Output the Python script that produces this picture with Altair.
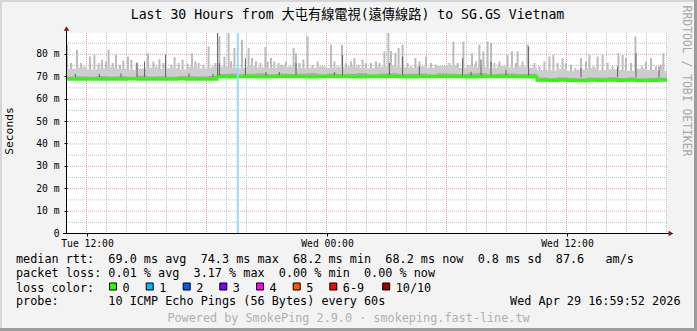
import altair as alt
import pandas as pd

MONO = "DejaVu Sans Mono, Noto Sans CJK TC"

# ---------------- data ----------------
hours = [i * 0.5 for i in range(61)]  # Tue 11:00 .. Wed 17:00, half-hour steps
median_ms = [68.7, 68.6, 68.7, 68.7, 68.6, 68.7, 68.8, 68.7, 68.6, 68.7, 68.7, 68.8, 68.7, 68.6, 68.7,
             69.8, 69.7, 69.8, 69.8, 69.7, 69.8, 69.9, 69.8, 69.8, 69.7, 69.8, 69.9, 69.8, 69.8, 69.7, 69.8,
             69.8, 69.9, 69.8, 69.7, 69.8, 69.8, 69.9, 69.8, 69.8, 69.7, 69.8, 69.8, 69.9, 69.8, 69.8, 69.7,
             68.2, 68.1, 68.2, 68.1, 68.0, 68.2, 68.1, 68.2, 68.1, 68.2, 68.0, 68.1, 68.2, 68.2]
smoke_top = [73.3, 73.8, 73.0, 73.6, 74.0, 73.3, 72.8, 73.4, 73.8, 73.2, 73.6, 73.0, 74.2, 73.4, 73.7,
             74.3, 73.8, 73.6, 74.4, 74.0, 73.7, 74.6, 74.1, 73.6, 73.8, 74.3, 73.7, 74.0, 74.5, 73.8, 73.6,
             74.2, 74.8, 74.0, 73.7, 74.3, 73.9, 74.6, 75.0, 73.8, 74.4, 74.1, 73.7, 74.6, 74.0, 74.3, 73.8,
             72.8, 72.6, 73.2, 72.4, 73.0, 73.6, 72.7, 73.1, 72.8, 72.5, 73.3, 72.9, 72.6, 72.8]
smoke_inner = [69.9, 70.0, 69.8, 70.1, 69.9, 70.0, 69.8, 70.2, 69.9, 70.0, 69.8, 70.1, 70.0, 69.9, 70.1,
               71.0, 71.2, 70.9, 71.1, 71.3, 70.9, 71.2, 71.0, 71.1, 71.3, 70.9, 71.2, 71.0, 71.1, 71.4, 70.9,
               71.2, 71.3, 71.0, 71.1, 71.2, 70.9, 71.3, 71.1, 71.0, 71.2, 71.4, 70.9, 71.1, 71.2, 71.0, 71.1,
               69.4, 69.2, 69.5, 69.3, 69.1, 69.4, 69.3, 69.5, 69.2, 69.4, 69.1, 69.3, 69.4, 69.3]

spike_hours = [0.0, 0.2, 0.5, 0.7, 0.87, 1.15, 1.37, 1.58, 1.75, 1.95, 2.08, 2.28, 2.45, 2.65, 2.82,
               3.05, 3.22, 3.48, 4.05, 4.32, 4.48, 4.62, 4.82, 5.22, 5.38, 5.58, 5.78, 6.03, 6.25,
               6.42, 6.58, 6.82, 7.08, 7.28, 7.42,
               7.62, 7.87, 8.08, 8.2, 8.37, 8.75, 9.08, 9.25, 9.45, 9.67, 9.92, 10.03, 10.2, 10.37,
               10.58, 10.75, 10.95, 11.15, 11.33, 11.45, 11.62, 11.82, 12.03, 12.28, 12.53, 12.75,
               13.2, 13.37, 13.53, 13.75, 13.95, 14.2, 14.37, 14.58, 14.78, 14.95,
               15.2, 15.45, 15.62, 15.87, 16.07, 16.2, 16.42, 16.58, 16.78, 17.03, 17.2, 17.42, 17.62,
               17.78, 17.95, 18.2, 18.45, 18.7, 19.12, 19.32, 19.53, 19.82, 20.03, 20.25, 20.45, 20.62,
               20.82, 21.03, 21.2, 21.37, 21.62, 21.87, 22.03, 22.25, 22.45,
               22.53, 22.78, 23.03, 23.37, 23.62, 23.87, 24.12, 24.32, 24.53, 24.78, 24.95, 25.2, 25.42,
               25.7, 25.95, 26.12, 26.33, 26.53, 26.78, 27.03, 27.28, 27.57, 27.78, 27.95, 28.2, 28.42,
               28.75, 28.95, 29.2, 29.45, 29.7, 29.82]
spike_tops = [84.1, 75.9, 81.8, 75.9, 74.4, 78.8, 79.6, 75.9, 77.4, 76.6, 81.8, 75.9, 79.6, 75.1, 77.0,
              78.8, 77.4, 75.9, 80.3, 76.6, 74.4, 77.6, 75.9, 75.1, 78.5, 75.9, 77.4, 75.6, 80.3,
              76.6, 75.9, 75.1, 83.3, 74.4, 75.9,
              87.8, 78.8, 89.3, 76.6, 82.6, 86.3, 82.6, 78.1, 76.6, 75.9, 83.0, 76.6, 78.1, 76.6,
              75.9, 75.1, 76.6, 74.4, 82.6, 80.3, 75.9, 77.4, 87.8, 75.1, 76.6, 74.4,
              84.1, 76.6, 74.4, 84.1, 75.9, 76.6, 78.1, 75.1, 77.4, 75.9,
              75.9, 76.6, 75.9, 81.1, 89.3, 81.1, 80.3, 82.6, 84.1, 75.9, 74.4, 78.1, 76.6,
              74.4, 78.8, 75.9, 75.1, 74.4, 75.9, 85.5, 75.9, 85.5, 75.1, 80.3, 76.6, 84.1,
              81.1, 85.5, 84.8, 75.9, 76.6, 74.4, 79.6, 81.1, 75.9,
              81.1, 76.6, 84.1, 75.9, 74.4, 76.6, 78.8, 79.6, 75.9, 78.1, 75.9, 75.1, 73.6,
              78.1, 76.6, 79.6, 74.4, 78.8, 79.6, 75.9, 74.4, 80.3, 79.6, 78.1, 75.9, 87.8,
              74.4, 76.6, 78.1, 74.4, 75.1, 80.3]
dark_hours = [0.42, 1.62, 2.7, 3.5, 3.88, 4.93, 6.1, 7.3, 7.53, 7.62, 8.92, 9.95, 10.62, 11.45,
              13.37, 13.78, 16.12, 16.78, 17.62, 19.78, 20.2, 20.7, 21.2, 21.95, 23.08, 25.7,
              27.53, 28.45, 29.6]
dark_tops = [71.0, 71.0, 71.2, 76.1, 76.6, 79.6, 71.2, 71.0, 89.3, 75.9, 78.0, 71.8, 71.8, 75.9,
             71.8, 79.6, 75.9, 78.8, 74.4, 78.0, 72.0, 77.4, 76.6, 72.9, 83.3, 73.6,
             74.4, 80.3, 74.4]
loss_hours = [8.54]

x_tick_hours = [1, 13, 25]
x_tick_labels = ["Tue 12:00", "Wed 00:00", "Wed 12:00"]
y_ticks = [0, 10, 20, 30, 40, 50, 60, 70, 80]
grid_minor_x = [0, 2, 3, 4, 5, 6, 8, 9, 10, 11, 12, 14, 15, 16, 17, 18, 20, 21, 22, 23, 24,
                26, 27, 28, 29, 30]
grid_major_x = [1, 7, 13, 19, 25]
grid_minor_y = [5, 15, 25, 35, 45, 55, 65, 75, 85]
grid_major_y = [10, 20, 30, 40, 50, 60, 70, 80]

title_text = "Last 30 Hours from 大屯有線電視(遠傳線路) to SG.GS Vietnam"
rtt_stats = ["69.0 ms avg", "74.3 ms max", "68.2 ms min", "68.2 ms now", "0.8 ms sd", "87.6   am/s"]
loss_stats = ["0.01 % avg", "3.17 % max", "0.00 % min", "0.00 % now"]
loss_labels = ["0", "1", "2", "3", "4", "5", "6-9", "10/10"]
loss_colors = ["#26ff00", "#00b8ff", "#0059ff", "#7e00ff", "#ff00ea", "#ff5500", "#ff0000", "#a10000"]
probe_text = "probe:       10 ICMP Echo Pings (56 Bytes) every 60s"
date_text = "Wed Apr 29 16:59:52 2026"
footer_text = "Powered by SmokePing 2.9.0 · smokeping.fast-line.tw"
watermark = "RRDTOOL / TOBI OETIKER"

# ---------------- chart ----------------
L, T = 67, 33
xs = alt.Scale(domain=[0, 30], nice=False, zero=False)
ys = alt.Scale(domain=[0, 89.3], nice=False, zero=False)

x_label_expr = " : ".join(
    f"datum.value == {h} ? '{lab}'" for h, lab in zip(x_tick_hours[:-1], x_tick_labels[:-1])
) + f" : '{x_tick_labels[-1]}'"
X_AXIS = alt.Axis(values=x_tick_hours, labelExpr=x_label_expr, grid=False, domain=False, ticks=True,
                  tickSize=3, tickColor="#000", labelFont=MONO, labelFontSize=9.7, labelColor="#000",
                  labelPadding=2, title=None, labelOverlap=False, labelFlush=False)
Y_AXIS = alt.Axis(values=y_ticks, labelExpr="datum.value == 0 ? '0' : datum.value + '\u00a0m'",
                  grid=False, domain=False, ticks=True, tickSize=3, tickColor="#000",
                  labelFont=MONO, labelFontSize=9.7, labelColor="#000", labelPadding=5,
                  title=None, labelOverlap=False, labelFlush=False)


def X(f):
    return alt.X(f, scale=xs, axis=X_AXIS)


def Y(f):
    return alt.Y(f, scale=ys, axis=Y_AXIS)


def nb(s):
    return s.replace(" ", "\u00a0")


series = pd.DataFrame({"h": hours, "med": median_ms, "top": smoke_top, "inner": smoke_inner})
spikes = pd.DataFrame({"h": spike_hours, "top": spike_tops, "base": [70.0] * len(spike_hours)})
darks = pd.DataFrame({"h": dark_hours, "top": dark_tops, "base": [69.6] * len(dark_hours)})
one = pd.DataFrame({"k": [0]})

layers = []

# invisible layer carrying the axes
layers.append(alt.Chart(pd.DataFrame({"h": [0, 30], "v": [0, 89.3]})).mark_point(opacity=0).encode(
    x=X("h:Q"), y=Y("v:Q")))


def vgrid(vals, color):
    return alt.Chart(pd.DataFrame({"h": vals})).mark_rule(
        color=color, strokeWidth=1, strokeDash=[1, 1], xOffset=-0.5
    ).encode(x=X("h:Q"))


def hgrid(vals, color):
    return alt.Chart(pd.DataFrame({"v": vals})).mark_rule(
        color=color, strokeWidth=1, strokeDash=[1, 1], yOffset=0.5
    ).encode(y=Y("v:Q"))


layers += [vgrid(grid_minor_x, "#c2c2c2"), hgrid(grid_minor_y, "#c2c2c2"),
           vgrid(grid_major_x, "#e49b9b"), hgrid(grid_major_y, "#e8a6a6")]

# smoke spikes
layers.append(alt.Chart(spikes).mark_rule(color="#bcbcbc", strokeWidth=2).encode(
    x=X("h:Q"), y=Y("top:Q"), y2="base:Q"))
# continuous smoke band
layers.append(alt.Chart(series).mark_area(interpolate="step-after", color="#cdcdcd").encode(
    x=X("h:Q"), y=Y("top:Q"), y2="med:Q"))
layers.append(alt.Chart(series).mark_area(interpolate="step-after", color="#a9a9a9").encode(
    x=X("h:Q"), y=Y("inner:Q"), y2="med:Q"))
# dark smoke
layers.append(alt.Chart(darks).mark_rule(color="#5e5e5e", strokeWidth=1).encode(
    x=X("h:Q"), y=Y("top:Q"), y2="base:Q"))
# median line
layers.append(alt.Chart(series).mark_line(interpolate="step-after", color="#26ff00", strokeWidth=3).encode(
    x=X("h:Q"), y=Y("med:Q")))
# loss marker
layers.append(alt.Chart(pd.DataFrame({"h": loss_hours})).mark_rule(color="#96dbf8", strokeWidth=2).encode(
    x=X("h:Q"), y=alt.value(0), y2=alt.value(200)))

# axis lines and arrows
layers.append(alt.Chart(one).mark_rule(color="#000", strokeWidth=1).encode(
    x=alt.value(-0.5), y=alt.value(200), y2=alt.value(-3)))
layers.append(alt.Chart(one).mark_rule(color="#000", strokeWidth=1).encode(
    x=alt.value(-4), x2=alt.value(602), y=alt.value(200.5)))
layers.append(alt.Chart(one).mark_point(shape="triangle-up", filled=True, color="#7a1a1a", size=30, opacity=1).encode(
    x=alt.value(-0.5), y=alt.value(-4.5)))
layers.append(alt.Chart(one).mark_point(shape="triangle-right", filled=True, color="#7a1a1a", size=30, opacity=1).encode(
    x=alt.value(604), y=alt.value(200.5)))


def text(t, x, y, size=11.8, color="#000", align="left", angle=0):
    return alt.Chart(pd.DataFrame({"t": [nb(t)]})).mark_text(
        align=align, baseline="middle", fontSize=size, color=color, font=MONO, angle=angle
    ).encode(x=alt.value(x - L), y=alt.value(y - T), text="t:N")


layers.append(text(title_text, 347.5, 15, size=13.2, align="center"))
layers.append(text(watermark, 686, 81, size=11.4, color="#a8a8a8", align="center", angle=90))
layers.append(text("Seconds", 10, 131, size=11.3, align="center", angle=270))
layers.append(text("median rtt:  " + "  ".join(rtt_stats), 16, 259))
layers.append(text("packet loss: " + "  ".join(loss_stats), 16, 273.3))
layers.append(text("loss color:", 16, 287.5))
layers.append(text(probe_text, 16, 301))
layers.append(text(date_text, 680.5, 301, align="right"))
layers.append(text(footer_text, 348.5, 317.7, color="#b0b0b0", align="center"))

box_left = [109, 145.7, 182.7, 219.3, 256, 292.7, 329.3, 382.2]
boxes = pd.DataFrame({"lab": [nb(s) for s in loss_labels], "col": loss_colors,
                      "bx": [b + 4 - L for b in box_left], "tx": [b + 13.5 - L for b in box_left]})
layers.append(alt.Chart(boxes).mark_square(size=49, stroke="#000", strokeWidth=1, opacity=1).encode(
    x=alt.X("bx:Q", scale=None), y=alt.value(286.5 - T), fill=alt.Fill("col:N", scale=None)))
layers.append(alt.Chart(boxes).mark_text(align="left", baseline="middle", fontSize=11.8, font=MONO, color="#000").encode(
    x=alt.X("tx:Q", scale=None), y=alt.value(287.5 - T), text="lab:N"))

# 3D frame
W, H = 697, 331
frame = [(-L, W - L, -T, -T + 2, "#d6d6d6"), (-L, -L + 2, -T, H - T, "#d6d6d6"),
         (-L, W - L, H - T - 3, H - T, "#9c9c9c"), (W - L - 3, W - L, -T, H - T, "#9c9c9c")]
for x1, x2, y1, y2, c in frame:
    layers.append(alt.Chart(one).mark_rect(color=c).encode(
        x=alt.value(x1), x2=alt.value(x2), y=alt.value(y1), y2=alt.value(y2)))

chart = alt.layer(*layers).properties(
    width=600, height=200,
    padding={"left": L, "top": T, "right": W - L - 600, "bottom": H - T - 200},
    autosize=alt.AutoSizeParams(type="none"),
    background="#f3f3f3",
).configure_view(fill="#ffffff", strokeWidth=0)

chart.save("out.html", embed_options={"renderer": "svg", "actions": False})
